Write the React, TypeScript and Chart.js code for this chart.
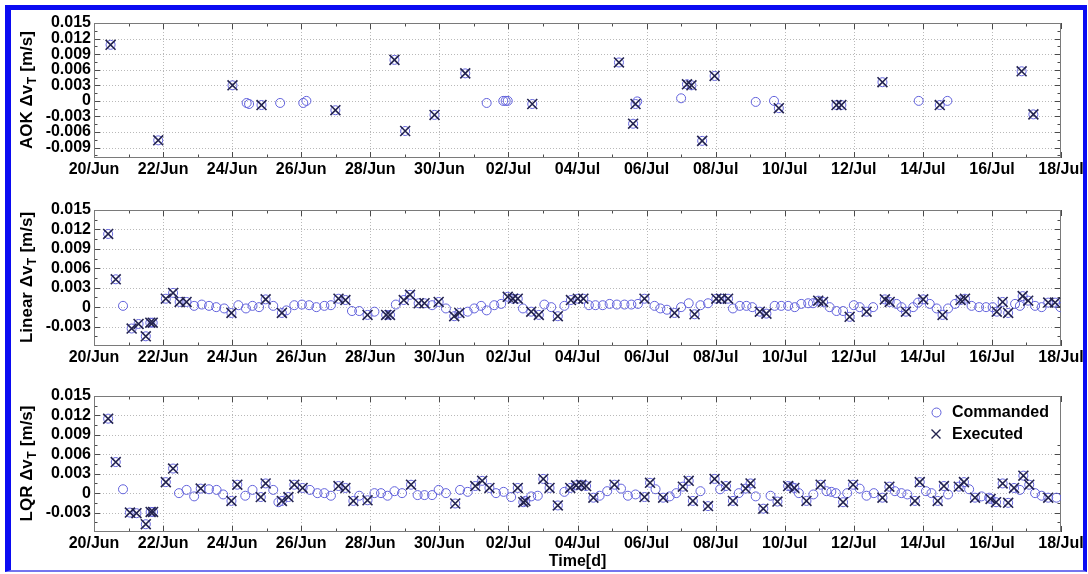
import { useEffect, useRef } from 'react';
import { Chart, registerables } from 'chart.js';

Chart.register(...registerables);

const FONT = "'Liberation Sans', Arial, Helvetica, sans-serif";

// Time axis: days counted from 20/Jun 00:00
const xTickDays = [0, 2, 4, 6, 8, 10, 12, 14, 16, 18, 20, 22, 24, 26, 28];
const xTickLabels = ['20/Jun', '22/Jun', '24/Jun', '26/Jun', '28/Jun', '30/Jun', '02/Jul', '04/Jul', '06/Jul', '08/Jul', '10/Jul', '12/Jul', '14/Jul', '16/Jul', '18/Jul'];
const xMinorDays = [1, 3, 5, 7, 9, 11, 13, 15, 17, 19, 21, 23, 25, 27];

// Y ticks
const aokYTicks = [-0.009, -0.006, -0.003, 0, 0.003, 0.006, 0.009, 0.012, 0.015];
const aokYMinor = [-0.0105, -0.0075, -0.0045, -0.0015, 0.0015, 0.0045, 0.0075, 0.0105, 0.0135];
const ctlYTicks = [-0.003, 0, 0.003, 0.006, 0.009, 0.012, 0.015];
const ctlYMinor = [-0.0045, -0.0015, 0.0015, 0.0045, 0.0075, 0.0105, 0.0135];

// AOK: executed manoeuvres (a commanded value sits under each)
const aokExeDay = [0.48, 1.86, 4.01, 4.85, 6.99, 8.70, 9.01, 9.86, 10.75, 12.69, 15.20, 15.61, 15.68, 17.17, 17.30, 17.61, 17.97, 19.83, 21.50, 21.64, 22.83, 24.49, 26.86, 27.20];
const aokExeVal = [0.0108, -0.0076, 0.0030, -0.0008, -0.0018, 0.0079, -0.0058, -0.0027, 0.0053, -0.0006, 0.0074, -0.0044, -0.0006, 0.0032, 0.0030, -0.0077, 0.0048, -0.0014, -0.0008, -0.0008, 0.0036, -0.0008, 0.0057, -0.0026];
// AOK: commanded only
const aokCmdDay = [4.42, 4.49, 5.39, 6.06, 6.15, 11.37, 11.85, 11.92, 11.98, 15.73, 17.00, 19.16, 19.69, 23.88, 24.71];
const aokCmdVal = [-0.0004, -0.0006, -0.0004, -0.0004, 0.0000, -0.0004, 0.0000, 0.0000, 0.0000, -0.0001, 0.0005, -0.0002, 0.0000, 0.0000, 0.0000];

// Linear controller
const linExeDay = [0.41, 0.63, 1.09, 1.29, 1.50, 1.63, 1.70, 2.08, 2.29, 2.48, 2.68, 3.98, 4.97, 5.44, 7.08, 7.28, 7.92, 8.46, 8.57, 8.97, 9.15, 9.40, 9.57, 9.98, 10.43, 10.58, 11.98, 12.13, 12.27, 12.66, 12.88, 13.43, 13.81, 14.01, 14.17, 15.94, 16.81, 17.39, 18.02, 18.16, 18.36, 19.28, 19.47, 20.97, 21.11, 21.88, 22.37, 22.90, 23.04, 23.51, 24.01, 24.57, 25.09, 25.22, 26.14, 26.31, 26.47, 26.89, 27.05, 27.63, 27.83];
const linExeVal = [0.0113, 0.0043, -0.0033, -0.0026, -0.0045, -0.0024, -0.0024, 0.0013, 0.0022, 0.0008, 0.0008, -0.0009, 0.0012, -0.0009, 0.0013, 0.0011, -0.0012, -0.0012, -0.0012, 0.0011, 0.0019, 0.0006, 0.0006, 0.0008, -0.0014, -0.0009, 0.0016, 0.0013, 0.0013, -0.0007, -0.0012, -0.0014, 0.0011, 0.0013, 0.0013, 0.0013, -0.0009, -0.0011, 0.0013, 0.0013, 0.0013, -0.0007, -0.0010, 0.0010, 0.0008, -0.0015, -0.0007, 0.0012, 0.0008, -0.0007, 0.0012, -0.0012, 0.0011, 0.0013, -0.0007, 0.0008, -0.0009, 0.0017, 0.0010, 0.0007, 0.0007];
const linCmdDay = [0.84, 2.90, 3.12, 3.33, 3.54, 3.77, 4.18, 4.40, 4.59, 4.78, 5.19, 5.57, 5.80, 6.02, 6.23, 6.44, 6.67, 6.86, 7.47, 7.68, 8.12, 8.74, 9.79, 10.19, 10.82, 11.01, 11.21, 11.37, 11.59, 11.79, 12.42, 13.04, 13.24, 13.62, 14.33, 14.52, 14.73, 14.93, 15.14, 15.36, 15.56, 15.75, 16.23, 16.40, 16.59, 17.00, 17.22, 17.56, 17.78, 18.50, 18.70, 18.89, 19.06, 19.71, 19.90, 20.10, 20.29, 20.48, 20.68, 20.82, 21.30, 21.50, 21.69, 22.00, 22.17, 22.56, 23.24, 23.38, 23.72, 23.86, 24.20, 24.40, 24.73, 24.93, 25.41, 25.63, 25.83, 26.02, 26.67, 26.81, 27.25, 27.44, 27.98];
const linCmdVal = [0.0002, 0.0002, 0.0004, 0.0002, 0.0000, -0.0002, 0.0003, -0.0002, 0.0002, 0.0000, 0.0002, -0.0005, 0.0003, 0.0004, 0.0003, 0.0000, 0.0002, 0.0003, -0.0006, -0.0006, -0.0007, 0.0004, 0.0003, -0.0002, -0.0007, -0.0002, 0.0002, -0.0005, 0.0003, 0.0005, -0.0002, 0.0004, 0.0000, 0.0002, 0.0003, 0.0003, 0.0003, 0.0005, 0.0004, 0.0004, 0.0004, 0.0005, 0.0002, -0.0002, -0.0004, 0.0000, 0.0006, 0.0003, 0.0006, -0.0002, 0.0002, 0.0002, 0.0000, 0.0002, 0.0002, 0.0002, 0.0000, 0.0005, 0.0006, 0.0006, 0.0000, -0.0006, -0.0006, 0.0003, 0.0000, 0.0000, 0.0005, 0.0000, 0.0000, 0.0007, 0.0005, -0.0002, -0.0002, 0.0005, 0.0002, 0.0000, 0.0000, 0.0000, 0.0005, 0.0002, 0.0002, 0.0000, 0.0000];

// LQR controller
const lqrExeDay = [0.41, 0.63, 1.04, 1.23, 1.50, 1.64, 1.71, 2.08, 2.29, 3.09, 3.98, 4.15, 4.83, 4.97, 5.44, 5.63, 5.80, 6.04, 7.08, 7.28, 7.51, 7.92, 9.18, 10.46, 11.04, 11.24, 11.45, 12.27, 12.43, 12.49, 13.01, 13.19, 13.43, 13.79, 13.96, 14.11, 14.25, 14.46, 15.07, 15.94, 16.10, 16.48, 17.05, 17.22, 17.34, 17.78, 17.97, 18.30, 18.50, 18.87, 19.01, 19.38, 19.79, 20.10, 20.28, 20.63, 21.04, 21.69, 21.98, 22.83, 23.03, 23.77, 23.91, 24.43, 24.61, 25.04, 25.19, 25.51, 25.96, 26.12, 26.31, 26.47, 26.64, 26.91, 27.08, 27.63];
const lqrExeVal = [0.0115, 0.0048, -0.0030, -0.0031, -0.0048, -0.0029, -0.0029, 0.0017, 0.0038, 0.0007, -0.0012, 0.0013, -0.0006, 0.0015, -0.0012, -0.0006, 0.0013, 0.0008, 0.0011, 0.0008, -0.0012, -0.0011, 0.0013, -0.0016, 0.0011, 0.0019, 0.0008, 0.0008, -0.0014, -0.0012, 0.0022, 0.0008, -0.0019, 0.0008, 0.0012, 0.0013, 0.0011, -0.0007, 0.0013, -0.0006, 0.0016, -0.0007, 0.0010, 0.0019, -0.0012, -0.0020, 0.0022, 0.0011, -0.0012, 0.0007, 0.0015, -0.0024, -0.0013, 0.0011, 0.0008, -0.0012, 0.0013, -0.0014, 0.0013, -0.0007, 0.0010, -0.0012, 0.0017, -0.0012, 0.0011, 0.0010, 0.0017, -0.0007, -0.0009, -0.0014, 0.0015, -0.0015, 0.0008, 0.0027, 0.0013, -0.0007];
const lqrCmdDay = [0.84, 2.46, 2.68, 2.90, 3.33, 3.55, 3.74, 4.38, 4.59, 5.19, 5.34, 6.25, 6.47, 6.67, 6.86, 7.68, 8.12, 8.31, 8.50, 8.70, 8.92, 9.37, 9.57, 9.79, 9.98, 10.19, 10.60, 10.82, 11.64, 11.86, 12.08, 12.66, 12.85, 13.62, 14.64, 14.86, 15.26, 15.46, 15.68, 16.26, 16.67, 16.86, 17.56, 18.13, 18.67, 19.16, 19.59, 20.19, 20.41, 20.83, 21.21, 21.35, 21.48, 21.81, 22.17, 22.37, 22.58, 23.19, 23.38, 23.55, 24.09, 24.25, 24.73, 25.34, 25.70, 25.92, 26.81, 27.25, 27.44, 27.87];
const lqrCmdVal = [0.0006, 0.0000, 0.0005, -0.0005, 0.0006, 0.0005, -0.0002, -0.0004, 0.0005, 0.0005, -0.0014, 0.0005, 0.0000, 0.0000, -0.0004, -0.0004, 0.0000, 0.0000, -0.0004, 0.0003, 0.0000, -0.0003, -0.0003, -0.0003, 0.0005, 0.0000, 0.0005, 0.0002, 0.0000, 0.0002, -0.0006, -0.0005, -0.0004, 0.0002, -0.0004, 0.0003, 0.0007, -0.0004, -0.0002, 0.0006, -0.0005, 0.0000, 0.0003, 0.0006, 0.0000, -0.0005, -0.0004, 0.0010, 0.0000, -0.0002, 0.0003, 0.0002, 0.0000, 0.0000, 0.0007, -0.0004, 0.0000, 0.0003, 0.0000, -0.0002, 0.0003, 0.0000, -0.0002, 0.0006, -0.0005, -0.0007, 0.0005, 0.0000, -0.0004, -0.0007];

type Panel = {
  key: string;
  title: [string, string, string];
  exeDay: number[];
  exeVal: number[];
  cmdDay: number[];
  cmdVal: number[];
  yMin: number;
  yMax: number;
  yTicks: number[];
  yMinor: number[];
  top: number;
  padTop: number;
  plotH: number;
  xAxisH: number;
  legend: boolean;
  xTitle: string;
};

const CANVAS_LEFT = 10;
const CANVAS_W = 1076;
const Y_AXIS_W = 84;
const PAD_RIGHT = 25;

const panels: Panel[] = [
  { key: 'aok', title: ['AOK \u0394v', 'T', ' [m/s]'], exeDay: aokExeDay, exeVal: aokExeVal, cmdDay: aokCmdDay, cmdVal: aokCmdVal, yMin: -0.011, yMax: 0.015, yTicks: aokYTicks, yMinor: aokYMinor, top: 12, padTop: 11, plotH: 135, xAxisH: 35, legend: false, xTitle: '' },
  { key: 'lin', title: ['Linear \u0394v', 'T', ' [m/s]'], exeDay: linExeDay, exeVal: linExeVal, cmdDay: linCmdDay, cmdVal: linCmdVal, yMin: -0.006, yMax: 0.015, yTicks: ctlYTicks, yMinor: ctlYMinor, top: 198, padTop: 12, plotH: 136, xAxisH: 30, legend: false, xTitle: '' },
  { key: 'lqr', title: ['LQR \u0394v', 'T', ' [m/s]'], exeDay: lqrExeDay, exeVal: lqrExeVal, cmdDay: lqrCmdDay, cmdVal: lqrCmdVal, yMin: -0.006, yMax: 0.015, yTicks: ctlYTicks, yMinor: ctlYMinor, top: 384, padTop: 12, plotH: 136, xAxisH: 42, legend: true, xTitle: 'Time[d]' },
];

const CMD_COLOR = '#6262dc';
const EXE_COLOR = '#23234f';

const toPoints = (days: number[], vals: number[]) => days.map((d, i) => ({ x: d, y: vals[i] }));

function drawCircle(ctx: CanvasRenderingContext2D, x: number, y: number, r: number) {
  ctx.beginPath();
  ctx.arc(x, y, r, 0, Math.PI * 2);
  ctx.stroke();
}

function drawCross(ctx: CanvasRenderingContext2D, x: number, y: number, h: number) {
  ctx.beginPath();
  ctx.moveTo(x - h, y - h);
  ctx.lineTo(x + h, y + h);
  ctx.moveTo(x - h, y + h);
  ctx.lineTo(x + h, y - h);
  ctx.stroke();
}

function makeAxesPlugin(p: Panel) {
  return {
    id: 'boxedAxes',
    beforeDatasetsDraw(chart: any) {
      const { ctx, chartArea: a, scales } = chart;
      const xs = scales.x;
      const ys = scales.y;
      ctx.save();
      // dotted grid at major ticks
      ctx.strokeStyle = '#b9b9b9';
      ctx.lineWidth = 1;
      ctx.setLineDash([1, 2]);
      ctx.beginPath();
      for (const d of xTickDays) {
        const px = Math.round(xs.getPixelForValue(d)) + 0.5;
        if (px <= a.left + 1 || px >= a.right - 1) continue;
        ctx.moveTo(px, a.top);
        ctx.lineTo(px, a.bottom);
      }
      for (const v of p.yTicks) {
        const py = Math.round(ys.getPixelForValue(v)) + 0.5;
        if (py <= a.top + 1 || py >= a.bottom - 1) continue;
        ctx.moveTo(a.left, py);
        ctx.lineTo(a.right, py);
      }
      ctx.stroke();
      ctx.setLineDash([]);

      // inward tick marks on all four sides
      ctx.strokeStyle = '#4a4a4a';
      ctx.beginPath();
      const xTick = (d: number, len: number) => {
        const px = Math.round(xs.getPixelForValue(d)) + 0.5;
        ctx.moveTo(px, a.bottom);
        ctx.lineTo(px, a.bottom - len);
        ctx.moveTo(px, a.top);
        ctx.lineTo(px, a.top + len);
      };
      const yTick = (v: number, len: number) => {
        const py = Math.round(ys.getPixelForValue(v)) + 0.5;
        ctx.moveTo(a.left, py);
        ctx.lineTo(a.left + len, py);
        ctx.moveTo(a.right, py);
        ctx.lineTo(a.right - len, py);
      };
      xTickDays.forEach((d) => xTick(d, 6));
      xMinorDays.forEach((d) => xTick(d, 3.5));
      p.yTicks.forEach((v) => yTick(v, 6));
      p.yMinor.forEach((v) => yTick(v, 3.5));
      ctx.stroke();

      // axes box
      ctx.strokeStyle = '#7a7a7a';
      ctx.strokeRect(Math.round(a.left) + 0.5, Math.round(a.top) + 0.5, Math.round(a.width) - 1, Math.round(a.height) - 1);
      ctx.restore();
    },
    afterDatasetsDraw(chart: any) {
      const { ctx, chartArea: a } = chart;
      ctx.save();
      if (p.legend) {
        const lx = 917;
        const ly = 13;
        ctx.fillStyle = '#ffffff';
        ctx.fillRect(lx, a.top + 1, a.right - 1 - lx, 46);
        ctx.lineWidth = 1;
        ctx.strokeStyle = CMD_COLOR;
        drawCircle(ctx, 926.5, ly + 15.5, 4.5);
        ctx.strokeStyle = EXE_COLOR;
        ctx.lineWidth = 1.4;
        drawCross(ctx, 926, ly + 37, 4.5);
        ctx.fillStyle = '#000';
        ctx.font = `bold 16px ${FONT}`;
        ctx.textBaseline = 'middle';
        ctx.textAlign = 'left';
        ctx.fillText('Commanded', 942, ly + 16);
        ctx.fillText('Executed', 942, ly + 38);
      }
      ctx.restore();
    },
    afterDraw(chart: any) {
      const { ctx, chartArea: a } = chart;
      ctx.save();
      // y-axis title with subscript
      const [main, sub, tail] = p.title;
      const big = `bold 17px ${FONT}`;
      const small = `bold 12px ${FONT}`;
      ctx.translate(17, (a.top + a.bottom) / 2);
      ctx.rotate(-Math.PI / 2);
      ctx.fillStyle = '#000';
      ctx.textBaseline = 'middle';
      ctx.textAlign = 'left';
      ctx.font = big;
      const w1 = ctx.measureText(main).width;
      const w3 = ctx.measureText(tail).width;
      ctx.font = small;
      const w2 = ctx.measureText(sub).width;
      const x0 = -(w1 + w2 + w3) / 2;
      ctx.font = big;
      ctx.fillText(main, x0, 0);
      ctx.font = small;
      ctx.fillText(sub, x0 + w1 + 0.5, 6);
      ctx.font = big;
      ctx.fillText(tail, x0 + w1 + w2 + 1, 0);
      ctx.restore();

      if (p.xTitle) {
        ctx.save();
        ctx.fillStyle = '#000';
        ctx.font = `bold 16px ${FONT}`;
        ctx.textAlign = 'center';
        ctx.textBaseline = 'middle';
        ctx.fillText(p.xTitle, (a.left + a.right) / 2, a.bottom + 30);
        ctx.restore();
      }
    },
  };
}

function PanelChart({ p }: { p: Panel }) {
  const ref = useRef<HTMLCanvasElement>(null);
  const height = p.padTop + p.plotH + p.xAxisH;

  useEffect(() => {
    const tickFont = { family: FONT, size: 16, weight: 'bold' as const };
    const chart = new Chart(ref.current as HTMLCanvasElement, {
      type: 'scatter',
      data: {
        datasets: [
          {
            label: 'Executed',
            data: toPoints(p.exeDay, p.exeVal),
            pointStyle: 'crossRot',
            pointRadius: 7,
            borderColor: EXE_COLOR,
            backgroundColor: EXE_COLOR,
            pointBorderWidth: 1.6,
            order: 0,
          },
          {
            label: 'Commanded',
            data: [...toPoints(p.cmdDay, p.cmdVal), ...toPoints(p.exeDay, p.exeVal)],
            pointStyle: 'circle',
            pointRadius: 4.5,
            borderColor: CMD_COLOR,
            backgroundColor: 'rgba(0,0,0,0)',
            pointBorderWidth: 1,
            order: 1,
          },
        ],
      },
      options: {
        responsive: false,
        maintainAspectRatio: false,
        animation: false,
        events: [],
        devicePixelRatio: 1,
        layout: { padding: { top: p.padTop, right: PAD_RIGHT, bottom: 0, left: 0 } },
        plugins: { legend: { display: false }, tooltip: { enabled: false } },
        scales: {
          x: {
            type: 'linear',
            position: 'bottom',
            min: 0,
            max: 28,
            grid: { display: false, drawTicks: false },
            border: { display: false },
            afterBuildTicks: (s: any) => {
              s.ticks = xTickDays.map((value) => ({ value }));
            },
            afterFit: (s: any) => {
              s.height = p.xAxisH;
              s.paddingLeft = 0;
              s.paddingRight = 0;
            },
            ticks: {
              autoSkip: false,
              maxRotation: 0,
              minRotation: 0,
              padding: 2,
              color: '#000',
              font: tickFont,
              callback: (_v: any, i: number) => xTickLabels[i],
            },
          },
          y: {
            type: 'linear',
            min: p.yMin,
            max: p.yMax,
            grid: { display: false, drawTicks: false },
            border: { display: false },
            afterBuildTicks: (s: any) => {
              s.ticks = p.yTicks.map((value) => ({ value }));
            },
            afterFit: (s: any) => {
              s.width = Y_AXIS_W;
              s.paddingTop = 0;
              s.paddingBottom = 0;
            },
            ticks: {
              autoSkip: false,
              padding: 3,
              color: '#000',
              font: tickFont,
              callback: (v: any) => (Number(v) === 0 ? '0' : Number(v).toFixed(3)),
            },
          },
        },
      },
      plugins: [makeAxesPlugin(p)],
    } as any);
    return () => chart.destroy();
  }, []);

  return (
    <canvas
      ref={ref}
      width={CANVAS_W}
      height={height}
      style={{ position: 'absolute', left: CANVAS_LEFT, top: p.top, width: CANVAS_W, height }}
    />
  );
}

export default function App() {
  return (
    <div style={{ position: 'absolute', left: 0, top: 0, width: 1088, height: 574, background: '#ffffff', overflow: 'hidden' }}>
      <div
        style={{
          position: 'absolute',
          left: 5,
          top: 5,
          width: 1082,
          height: 567,
          boxSizing: 'border-box',
          borderTop: '5px solid #0b0bf2',
          borderLeft: '6px solid #0b0bf2',
          borderRight: '4px solid #0b0bf2',
          borderBottom: '2px solid #7474ee',
        }}
      />
      {panels.map((p) => (
        <PanelChart key={p.key} p={p} />
      ))}
    </div>
  );
}
